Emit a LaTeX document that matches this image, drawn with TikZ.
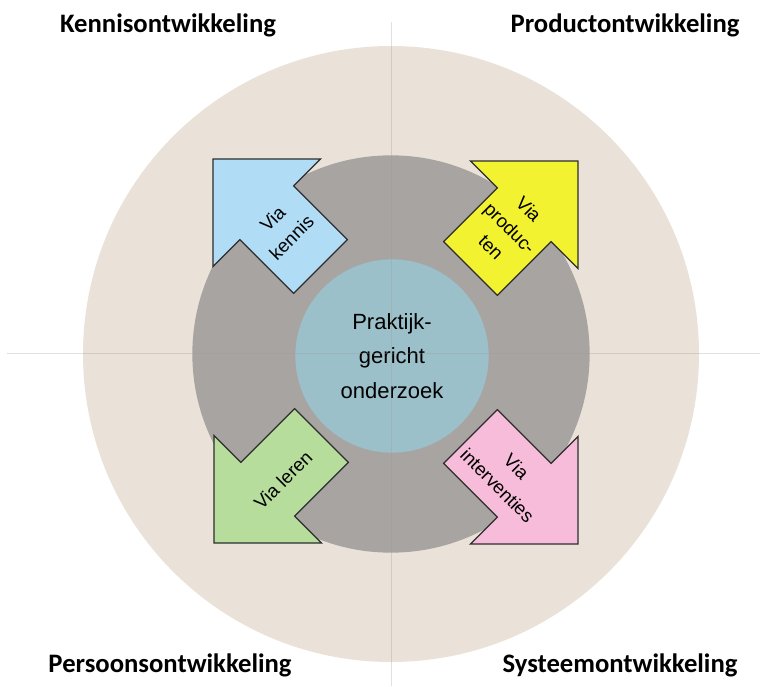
\documentclass[tikz,border=0pt]{standalone}
\usepackage{fontspec}
\setmainfont{Liberation Sans}
\newfontfamily\titelfont{Carlito}

\definecolor{beige}{RGB}{234,226,216}
\definecolor{ringgrijs}{RGB}{168,164,161}
\definecolor{kernblauw}{RGB}{156,192,201}
\definecolor{lichtblauw}{RGB}{176,221,245}
\definecolor{geel}{RGB}{242,242,48}
\definecolor{groen}{RGB}{182,221,156}
\definecolor{roze}{RGB}{246,188,217}
\definecolor{pijlrand}{RGB}{45,45,45}

\begin{document}
\begin{tikzpicture}[
        x=0.75pt, y=0.75pt,
        every node/.style={text centered},
        schijf/.style={circle, inner sep=0pt},
        titel/.style={font=\titelfont\bfseries\fontsize{20}{24}\selectfont},
        tekst/.style={align=center, inner sep=1pt, font=\fontsize{14}{20}\selectfont},
        pijl/.style={draw=pijlrand, line width=0.9pt, line join=miter},
        as/.style={draw=black!40, line width=0.7pt, opacity=0.3},
    ]

    \useasboundingbox (-391,-332) rectangle (372,354);

    \node[schijf, fill=beige, minimum size=462pt](buiten) at (0,0) {};
    \node[schijf, fill=ringgrijs, minimum size=298pt](ring) at (0,0) {};
    \node[schijf, fill=kernblauw, minimum size=145pt, align=center,
        font=\fontsize{16.5}{26}\selectfont](kern) at (1,-2) {Praktijk-\\gericht\\onderzoek};

    \coordinate (boven) at (0,332);
    \coordinate (onder) at (0,-332);
    \coordinate (links) at (-384,1);
    \coordinate (rechts) at (369,1);
    \draw[as] (boven) -- (onder);
    \draw[as] (links) -- (rechts);

    % block arrows, tip at origin before shift/rotate
    \filldraw[pijl, fill=lichtblauw, shift={(-178,195)}, rotate=135]
    (0,0) -- (-76,76) -- (-76,38) -- (-152,38) -- (-152,-38) -- (-76,-38) -- (-76,-76) -- cycle;
    \filldraw[pijl, fill=geel, shift={(187,193)}, rotate=45]
    (0,0) -- (-76,76) -- (-76,38) -- (-152,38) -- (-152,-38) -- (-76,-38) -- (-76,-76) -- cycle;
    \filldraw[pijl, fill=groen, shift={(-177,-189)}, rotate=225]
    (0,0) -- (-76,76) -- (-76,38) -- (-152,38) -- (-152,-38) -- (-76,-38) -- (-76,-76) -- cycle;
    \filldraw[pijl, fill=roze, shift={(187,-190)}, rotate=-45]
    (0,0) -- (-76,76) -- (-76,38) -- (-152,38) -- (-152,-38) -- (-76,-38) -- (-76,-76) -- cycle;

    \node[tekst, rotate=45](kennis) at (-109,126) {Via\\kennis};
    \node[tekst, rotate=-45](producten) at (119,126) {Via\\produc-\\ten};
    \node[tekst, rotate=45](leren) at (-108,-126) {Via leren};
    \node[tekst, rotate=-45](interventies) at (116,-122) {Via\\interventies};

    \node[titel](kennisontw) at (-223,329) {Kennisontwikkeling};
    \node[titel](productontw) at (234,329) {Productontwikkeling};
    \node[titel](persoonsontw) at (-221,-311) {Persoonsontwikkeling};
    \node[titel](systeemontw) at (229,-311) {Systeemontwikkeling};
\end{tikzpicture}
\end{document}
